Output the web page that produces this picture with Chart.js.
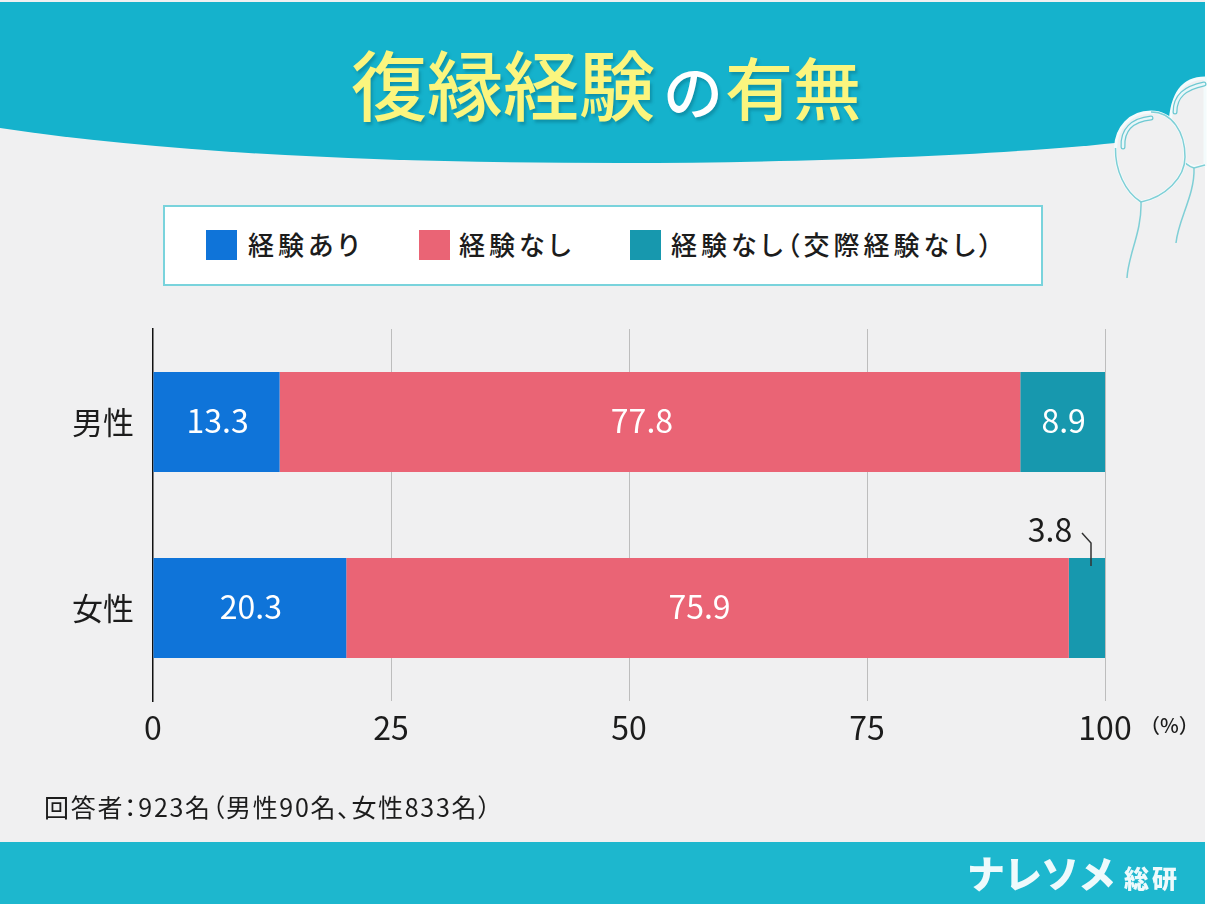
<!DOCTYPE html>
<html lang="ja">
<head>
<meta charset="utf-8">
<title>復縁経験の有無</title>
<script src="https://cdn.jsdelivr.net/npm/chart.js@4"></script>
<style>
  html, body { margin: 0; padding: 0; background: #fff; }
  #page { position: relative; width: 1208px; height: 904px; overflow: hidden; background: #fff;
    font-family: "Noto Sans CJK JP", sans-serif; color: #1c1c1c; }
  #bg { position: absolute; left: 0; top: 0; }
  #chart { position: absolute; left: 0; top: 0; }
  #title { position: absolute; left: 351px; top: 27px; height: 110px; line-height: 110px; white-space: nowrap;
    font-size: 76px; font-weight: 500; color: #fbf57e; text-shadow: 2px 3px 3px rgba(0,90,110,.35); }
  #title .no { font-size: 60px; font-weight: 500; color: #fff; margin: 0 2px 0 8px; }
  #title .end { font-size: 68px; }
  #legend { position: absolute; left: 163px; top: 205px; width: 876px; height: 77px; background: #fff; border: 2px solid #79d3dc; }
  .swatch { position: absolute; top: 23px; width: 31px; height: 30px; }
  .lg { position: absolute; top: 15px; line-height: 44px; font-size: 26px; font-weight: 500; letter-spacing: 4px; white-space: nowrap; font-feature-settings: "palt"; }
  #unit { position: absolute; left: 1140px; top: 710px; font-size: 20px; line-height: 30px; font-weight: 500; }
  #note { position: absolute; left: 44px; top: 788px; font-size: 25px; line-height: 36px; white-space: nowrap; letter-spacing: 1.7px; font-feature-settings: "palt"; }
  #logo { position: absolute; left: 967px; top: 846px; line-height: 52px; color: #eefafc; font-weight: 900; font-size: 38px; white-space: nowrap; letter-spacing: -1px; }
  #logo small { font-size: 25px; letter-spacing: 3px; margin-left: 9px; }
</style>
</head>
<body>
<div id="page">
  <svg id="bg" width="1208" height="904" viewBox="0 0 1208 904">
    <rect x="0" y="0" width="1205" height="904" fill="#f0f0f1"/>
    <path d="M0 2H1205V130L1115 143C1000 155 800 163 620 163C400 163 180 155 0 128Z" fill="#15b2cc"/>
    <rect x="0" y="842" width="1205" height="62" fill="#1db7ce"/>
    <path d="M1205 78Q1172 78 1170 125Q1170 160 1194 167L1205 165Z" fill="#f0f0f1" stroke="#f4fbfc" stroke-width="3"/>
    <g fill="none" stroke="#7fcfd6" stroke-width="1.5">
      <path d="M1205 165L1194 168Q1185 165 1182 158"/>
      <path d="M1194 168C1195 195 1178 220 1176 243"/>
    </g>
    <path d="M1151 112C1172 112 1185 132 1185 157C1185 178 1165 197 1141 202C1125 192 1115 170 1115.5 148C1116 128 1130 112 1151 112Z" fill="#f0f0f1" stroke="#f4fbfc" stroke-width="3"/>
    <path d="M1151 112C1172 112 1185 132 1185 157C1185 178 1165 197 1141 202C1125 192 1115 170 1115.5 148" fill="none" stroke="#7fcfd6" stroke-width="1.5"/>
    <path d="M1141 202C1142 232 1128 255 1127 278" fill="none" stroke="#7fcfd6" stroke-width="1.5"/>
    <g fill="none" stroke-linecap="round">
      <path d="M1123 147C1122 130 1132 120 1151 118" stroke="#6ec9d2" stroke-width="5"/>
      <path d="M1123 147C1122 130 1132 120 1151 118" stroke="#e8f7f9" stroke-width="2.5"/>
      <path d="M1175 112C1175 96 1185 88 1204 84" stroke="#6ec9d2" stroke-width="5"/>
      <path d="M1175 112C1175 96 1185 88 1204 84" stroke="#e8f7f9" stroke-width="2.5"/>
    </g>
  </svg>
  <div id="title">復縁経験<span class="no">の</span><span class="end">有無</span></div>
  <div id="legend"></div>
  <canvas id="chart" width="1208" height="904"></canvas>
  <div id="unit">（%）</div>
  <div id="note">回答者：923名（男性90名、女性833名）</div>
  <div id="logo">ナレソメ<small>総研</small></div>
</div>
<script>
const categories = ['男性', '女性'];
const seriesNames = ['経験あり', '経験なし', '経験なし（交際経験なし）'];
const experienced = [13.3, 20.3];
const notExperienced = [77.8, 75.9];
const neverDated = [8.9, 3.8];
const seriesColors = ['#0f74d9', '#ea6475', '#1798ae'];
const xTicks = [0, 25, 50, 75, 100];

const fontFamily = '"Noto Sans CJK JP", sans-serif';

// legend is plain html so it can sit in the white box
const swatchLeft = [41, 254, 465];
const textLeft = [83, 294, 506];
const legendBox = document.getElementById('legend');
seriesNames.forEach((name, i) => {
  const sw = document.createElement('div');
  sw.className = 'swatch';
  sw.style.left = swatchLeft[i] + 'px';
  sw.style.background = seriesColors[i];
  legendBox.appendChild(sw);
  const txt = document.createElement('div');
  txt.className = 'lg';
  txt.style.left = textLeft[i] + 'px';
  txt.textContent = name;
  legendBox.appendChild(txt);
});

const barLabels = {
  id: 'barLabels',
  afterDatasetsDraw(chart) {
    const ctx = chart.ctx;
    ctx.save();
    ctx.textAlign = 'center';
    ctx.textBaseline = 'middle';
    ctx.font = '400 32px ' + fontFamily;
    chart.data.datasets.forEach((ds, d) => {
      chart.getDatasetMeta(d).data.forEach((bar, i) => {
        const val = ds.data[i];
        if (val < 5) {
          // too narrow, label goes above with a leader
          const top = bar.y - 50;
          ctx.fillStyle = '#1c1c1c';
          ctx.fillText(val.toFixed(1), bar.x - 55, top - 28);
          ctx.strokeStyle = '#333';
          ctx.lineWidth = 1.5;
          ctx.beginPath();
          ctx.moveTo(bar.x - 23, top - 25);
          ctx.lineTo(bar.x - 14, top - 15);
          ctx.lineTo(bar.x - 14, top + 8);
          ctx.stroke();
        } else {
          // the wide middle series sits a bit left of its centre in the original
          const shift = d === 1 ? -8 : 1;
          ctx.fillStyle = '#fff';
          ctx.fillText(val.toFixed(1), (bar.x + bar.base) / 2 + shift, bar.y - 1);
        }
      });
    });
    ctx.restore();
  }
};

new Chart(document.getElementById('chart'), {
  type: 'bar',
  data: {
    labels: categories,
    datasets: [experienced, notExperienced, neverDated].map((vals, i) => ({
      label: seriesNames[i],
      data: vals,
      backgroundColor: seriesColors[i],
      borderWidth: 0,
      categoryPercentage: 0.5376,
      barPercentage: 1
    }))
  },
  plugins: [barLabels],
  options: {
    indexAxis: 'y',
    responsive: false,
    animation: false,
    layout: { padding: { top: 329, right: 103, bottom: 153, left: 0 } },
    plugins: { legend: { display: false }, tooltip: { enabled: false } },
    scales: {
      x: {
        stacked: true,
        min: 0,
        max: 100,
        afterBuildTicks(axis) { axis.ticks = xTicks.map(value => ({ value })); },
        afterFit(axis) { axis.height = 50; },
        border: { display: false },
        grid: {
          drawTicks: false,
          lineWidth: 1,
          color: ctx => ctx.tick && ctx.tick.value === 0 ? 'rgba(0,0,0,0)' : '#bdbdbd'
        },
        ticks: { color: '#1c1c1c', padding: 8, maxRotation: 0, font: { family: fontFamily, size: 32, weight: '400' } }
      },
      y: {
        stacked: true,
        afterFit(axis) { axis.width = 153; },
        border: { color: '#111', width: 1.5 },
        grid: { display: false, drawTicks: false },
        ticks: { color: '#1c1c1c', padding: 19, font: { family: fontFamily, size: 31, weight: '400' } }
      }
    }
  }
});
</script>
</body>
</html>
